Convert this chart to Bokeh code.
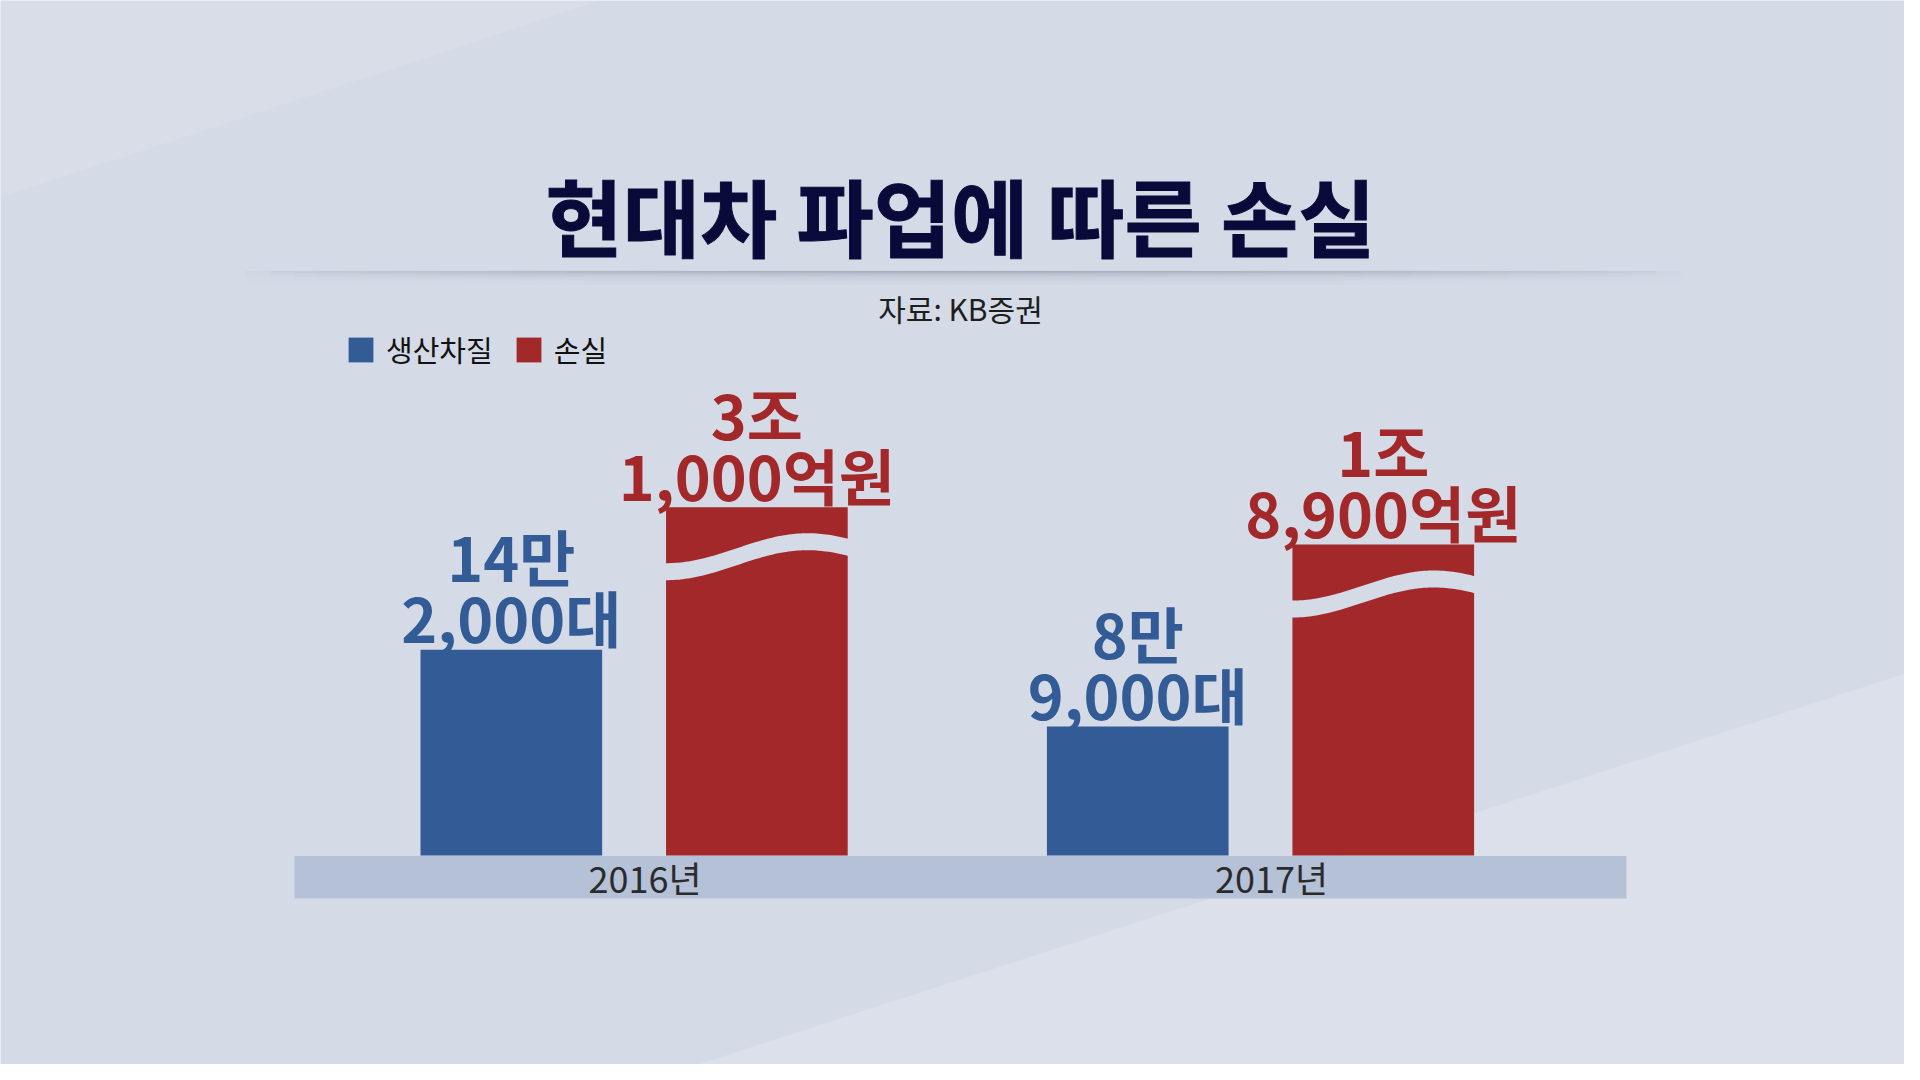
import numpy as np
from bokeh.plotting import figure
from bokeh.models import Range1d, Legend, LegendItem
from bokeh.core.properties import value
from bokeh.embed import file_html
from bokeh.resources import INLINE

# ---------------- data ----------------
TITLE = "현대차 파업에 따른 손실"
SOURCE_NOTE = "자료: KB증권"
YEARS = ["2016년", "2017년"]
SERIES = ["생산차질", "손실"]
PRODUCTION_LOSS_UNITS = [142000, 89000]            # 대
PRODUCTION_LOSS_LABELS = ["14만 2,000대", "8만 9,000대"]
MONEY_LOSS_EOK = [31000, 18900]                    # 억원
MONEY_LOSS_LABELS = ["3조 1,000억원", "1조 8,900억원"]

# ---------------- style / layout ----------------
BG = "#d4dae6"
BLUE = "#335b96"
RED = "#a2282a"
BAND = "#b5c1d6"
NAVY = "#0a0a3a"
FONT = "Noto Sans CJK KR"

W, H = 1904, 1064
BAND_L, BAND_R, BAND_T, BAND_B = 294, 1626, 855.5, 898
BAR_BASE_Y = 855
GROUP0_PX = 633.6                 # first year group centre (px)
YEAR_SPACING_PX = 626.4
LABEL_NUDGE = 0.0176              # year label sits slightly right of group centre
BAR_OFFSET = 0.196
BAR_W = 0.29
UNITS_PER_PX = 690.0              # production-loss scale
LOSS_PX_PER_EOK = 0.0030826       # broken (truncated) money-loss scale
LOSS_BREAK_BASE = -81989.0

x = np.arange(len(YEARS))
x_start = -GROUP0_PX / YEAR_SPACING_PX
x_end = x_start + W / YEAR_SPACING_PX

p = figure(width=W, height=H, output_backend="svg", toolbar_location=None,
           x_range=Range1d(x_start, x_end),
           y_range=Range1d(-(H - BAR_BASE_Y) * UNITS_PER_PX, BAR_BASE_Y * UNITS_PER_PX),
           x_axis_location=None, y_axis_location=None,
           min_border=0)
p.extra_y_ranges = {
    "loss": Range1d(LOSS_BREAK_BASE - (H - BAR_BASE_Y) / LOSS_PX_PER_EOK,
                    LOSS_BREAK_BASE + BAR_BASE_Y / LOSS_PX_PER_EOK),
    "page": Range1d(H, 0),
}
p.extra_x_ranges = {"page": Range1d(0, W)}

p.background_fill_color = BG
p.border_fill_color = BG
p.outline_line_color = None
p.xgrid.visible = False
p.ygrid.visible = False

# ---------------- background light streaks ----------------
p.patches(xs=[[0, 600, 0], [648, 1920, 1920]],
          ys=[[0, 0, 197], [1080, 668, 1080]],
          x_range_name="page", y_range_name="page",
          fill_color="white", fill_alpha=[0.10, 0.16], line_color=None)

# ---------------- title / source / separator ----------------
p.text(x=[960], y=[214], text=[TITLE],
       x_range_name="page", y_range_name="page",
       text_align="center", text_baseline="middle",
       text_font=value(FONT), text_font_style="bold",
       text_font_size="84px", text_color=NAVY, text_outline_color=NAVY)
p.text(x=[960], y=[307], text=[SOURCE_NOTE],
       x_range_name="page", y_range_name="page",
       text_align="center", text_baseline="middle",
       text_font=value(FONT), text_font_size="30px", text_color="#1e1e1e")

# shadowed separator rule
sx = np.linspace(245, 1680, 60)
x0s, x1s, ys, alphas = [], [], [], []
for dy in range(0, 14):
    for a, b in zip(sx[:-1], sx[1:]):
        m = (a + b) / 2
        prof = np.sin(np.pi * (m - 245) / (1680 - 245)) ** 0.6
        x0s.append(a); x1s.append(b); ys.append(271 + dy)
        alphas.append(0.45 * prof * np.exp(-dy / 4.0))
p.segment(x0=x0s, y0=ys, x1=x1s, y1=ys, x_range_name="page", y_range_name="page",
          line_color="#7c8496", line_alpha=alphas, line_width=1.2)

# ---------------- category band + year labels ----------------
p.quad(left=[BAND_L], right=[BAND_R], top=[BAND_T], bottom=[BAND_B],
       x_range_name="page", y_range_name="page", fill_color=BAND, line_color=None)
p.text(x=list(x + LABEL_NUDGE), y=[(BAND_T + BAND_B) / 2] * len(YEARS), text=YEARS,
       y_range_name="page", text_align="center", text_baseline="middle",
       text_font=value(FONT), text_font_size="36px", text_color="#2b2b2b")

# ---------------- bars ----------------
blue_r = p.vbar(x=x - BAR_OFFSET, top=PRODUCTION_LOSS_UNITS, bottom=0, width=BAR_W,
                fill_color=BLUE, line_color=None)
red_r = p.vbar(x=x + BAR_OFFSET, top=MONEY_LOSS_EOK, bottom=LOSS_BREAK_BASE, width=BAR_W,
               fill_color=RED, line_color=None, y_range_name="loss")

# wave break marks across the (truncated) loss bars
wx, wy = [], []
t = np.linspace(-0.01, 1.01, 80)
for xc, top in zip(x + BAR_OFFSET, MONEY_LOSS_EOK):
    left = xc - BAR_W / 2
    xs = left + t * BAR_W
    off = 41 + 15 * np.cos(np.pi * t / 0.78)
    upper = top - off / LOSS_PX_PER_EOK
    lower = top - (off + 17) / LOSS_PX_PER_EOK
    wx.append(np.concatenate([xs, xs[::-1]]))
    wy.append(np.concatenate([upper, lower[::-1]]))
p.patches(wx, wy, y_range_name="loss", fill_color=BG, line_color=None)

# ---------------- value labels ----------------
def add_labels(xs, ys, labels, color, yr="default"):
    first = [s.split(" ")[0] for s in labels]
    second = [s.split(" ")[1] for s in labels]
    kw = dict(text_align="center", text_baseline="alphabetic", text_font=value(FONT),
              text_font_style="bold", text_font_size="61px", text_color=color,
              y_range_name=yr)
    p.text(x=list(xs), y=list(ys), text=second, y_offset=-33, **kw)
    p.text(x=list(xs), y=list(ys), text=first, y_offset=-94, **kw)

add_labels(x - BAR_OFFSET, PRODUCTION_LOSS_UNITS, PRODUCTION_LOSS_LABELS, BLUE)
add_labels(x + BAR_OFFSET, MONEY_LOSS_EOK, MONEY_LOSS_LABELS, RED, "loss")

# ---------------- legend ----------------
legend = Legend(items=[LegendItem(label=SERIES[0], renderers=[blue_r]),
                       LegendItem(label=SERIES[1], renderers=[red_r])],
                orientation="horizontal", location=(345, 694),
                background_fill_alpha=0, border_line_color=None,
                label_text_font=FONT, label_text_font_size="29px",
                label_text_color="#111111",
                glyph_width=31, glyph_height=31, spacing=20, padding=0, margin=0,
                label_standoff=10)
p.add_layout(legend)

open("out.html", "w").write(file_html(p, INLINE))
